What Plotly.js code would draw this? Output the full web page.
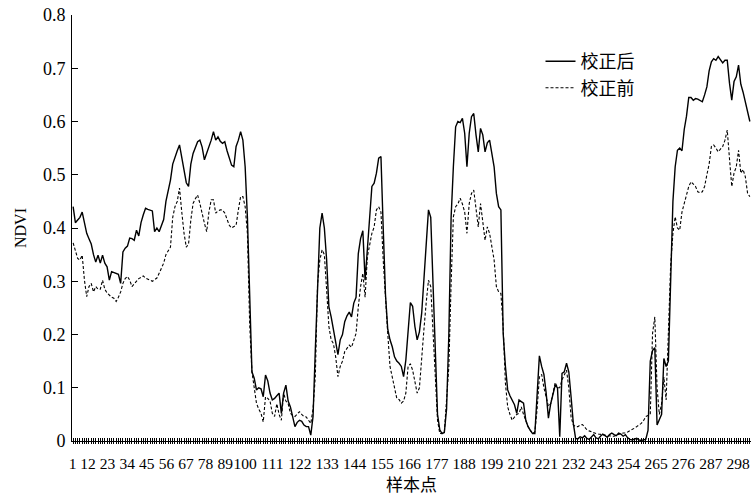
<!DOCTYPE html>
<html><head><meta charset="utf-8">
<script src="https://cdn.plot.ly/plotly-3.0.1.min.js"></script>
<style>html,body{margin:0;padding:0;background:#fff}#chart{width:753px;height:501px}</style>
</head><body><div id="chart"></div>
<script>
const ndviAfter = [
0.44,0.41,0.415,0.42,0.43,0.41,0.39,0.38,0.37,0.35,
0.336,0.349,0.334,0.349,0.334,0.327,0.302,0.318,0.316,0.314,
0.313,0.296,0.355,0.362,0.366,0.381,0.38,0.377,0.396,0.385,
0.41,0.425,0.437,0.435,0.434,0.432,0.393,0.4,0.393,0.405,
0.416,0.45,0.47,0.49,0.52,0.535,0.545,0.556,0.53,0.509,
0.485,0.478,0.52,0.54,0.55,0.562,0.565,0.552,0.528,0.54,
0.552,0.565,0.581,0.565,0.571,0.563,0.559,0.562,0.545,0.532,
0.518,0.515,0.553,0.565,0.581,0.565,0.515,0.42,0.25,0.13,
0.118,0.096,0.1,0.098,0.083,0.124,0.113,0.09,0.077,0.08,
0.085,0.09,0.052,0.09,0.105,0.075,0.064,0.046,0.027,0.035,
0.039,0.037,0.03,0.027,0.027,0.011,0.046,0.171,0.296,0.4,
0.428,0.4,0.34,0.252,0.233,0.21,0.19,0.162,0.19,0.2,
0.224,0.235,0.242,0.233,0.259,0.27,0.352,0.38,0.395,0.302,
0.36,0.43,0.478,0.484,0.503,0.531,0.534,0.4,0.275,0.21,
0.19,0.177,0.158,0.15,0.146,0.14,0.121,0.152,0.2,0.26,
0.253,0.215,0.19,0.205,0.24,0.3,0.36,0.434,0.42,0.3,
0.171,0.05,0.021,0.014,0.016,0.06,0.2,0.42,0.515,0.59,
0.6,0.598,0.606,0.578,0.515,0.578,0.609,0.615,0.575,0.543,
0.587,0.575,0.543,0.56,0.565,0.54,0.515,0.465,0.44,0.434,
0.202,0.14,0.096,0.085,0.077,0.068,0.052,0.077,0.074,0.071,
0.039,0.027,0.02,0.014,0.014,0.09,0.16,0.14,0.125,0.09,
0.043,0.07,0.085,0.105,0.1,0.008,0.127,0.13,0.146,0.13,
0.083,0.033,0.005,0.004,0.008,0.006,0.01,0.005,0.003,0.008,
0.012,0.006,0.004,0.009,0.013,0.01,0.007,0.012,0.015,0.012,
0.01,0.015,0.013,0.009,0.012,0.006,0.003,0.002,0.003,0.005,
0.002,0.001,0.002,0.003,0.02,0.15,0.17,0.175,0.03,0.04,
0.05,0.155,0.14,0.15,0.31,0.45,0.515,0.546,0.55,0.545,
0.585,0.61,0.645,0.645,0.64,0.643,0.642,0.64,0.637,0.65,
0.665,0.695,0.712,0.718,0.715,0.722,0.715,0.71,0.715,0.715,
0.672,0.64,0.675,0.684,0.706,0.67,0.655,0.635,0.62,0.6
];
const ndviBefore = [
0.372,0.355,0.343,0.34,0.349,0.302,0.271,0.29,0.296,0.28,
0.29,0.285,0.285,0.302,0.285,0.278,0.274,0.27,0.268,0.262,
0.27,0.28,0.296,0.305,0.309,0.302,0.29,0.295,0.299,0.305,
0.307,0.31,0.306,0.304,0.302,0.3,0.303,0.306,0.315,0.325,
0.334,0.35,0.358,0.364,0.42,0.44,0.45,0.475,0.43,0.39,
0.364,0.37,0.415,0.446,0.455,0.462,0.446,0.425,0.409,0.393,
0.43,0.453,0.453,0.428,0.432,0.434,0.434,0.428,0.415,0.405,
0.4,0.402,0.405,0.434,0.459,0.459,0.44,0.39,0.22,0.13,
0.1,0.071,0.06,0.052,0.036,0.083,0.08,0.075,0.052,0.046,
0.07,0.05,0.039,0.09,0.075,0.07,0.052,0.048,0.046,0.05,
0.055,0.05,0.046,0.045,0.04,0.033,0.06,0.121,0.296,0.34,
0.359,0.35,0.284,0.215,0.19,0.183,0.158,0.121,0.14,0.15,
0.168,0.175,0.18,0.176,0.19,0.202,0.252,0.29,0.315,0.27,
0.346,0.371,0.39,0.402,0.434,0.44,0.43,0.34,0.265,0.202,
0.14,0.12,0.102,0.08,0.078,0.071,0.075,0.09,0.14,0.145,
0.133,0.11,0.09,0.1,0.165,0.21,0.26,0.302,0.29,0.202,
0.108,0.039,0.014,0.014,0.016,0.077,0.14,0.296,0.421,0.44,
0.445,0.456,0.445,0.43,0.39,0.446,0.465,0.471,0.434,0.402,
0.446,0.41,0.377,0.402,0.39,0.365,0.34,0.29,0.28,0.277,
0.215,0.108,0.064,0.05,0.039,0.045,0.05,0.052,0.064,0.05,
0.039,0.027,0.02,0.014,0.017,0.06,0.12,0.125,0.1,0.08,
0.065,0.07,0.09,0.11,0.1,0.1,0.115,0.125,0.133,0.1,
0.045,0.03,0.027,0.027,0.03,0.031,0.025,0.021,0.019,0.017,
0.015,0.014,0.013,0.013,0.012,0.011,0.01,0.01,0.009,0.009,
0.011,0.013,0.014,0.015,0.015,0.017,0.019,0.021,0.024,0.027,
0.03,0.033,0.038,0.046,0.048,0.05,0.202,0.233,0.1,0.05,
0.07,0.12,0.077,0.2,0.33,0.39,0.421,0.4,0.396,0.43,
0.445,0.465,0.478,0.487,0.482,0.478,0.468,0.466,0.468,0.478,
0.5,0.52,0.553,0.556,0.55,0.543,0.548,0.553,0.565,0.584,
0.53,0.478,0.503,0.515,0.546,0.503,0.51,0.496,0.465,0.459
];
const sampleIndex = ndviAfter.map((_, k) => k + 1);
const tickLabels = ['1','12','23','34','45','56','67','78','89','100','111','122','133','144','155','166','177','188','199','210','221','232','243','254','265','276','287','298'];
const seriesNames = ['校正后', '校正前'];

// layout: where the (crowded) tick labels sit along the bottom, in page pixels
const tickLabelPx = [72.5,88,107.6,127.2,146.8,166.4,186,205.6,225.2,245,272.4,299.8,327.2,354.6,382,409.4,436.8,464.2,491.6,519,546.4,573.8,601.2,628.6,656,683.4,710.8,738.2];

const serif = "'Liberation Serif'";
const cjk = "'Noto Sans CJK SC'";

const traces = [
  {x: sampleIndex, y: ndviAfter, name: seriesNames[0], type: 'scatter', mode: 'lines',
   line: {color: '#000', width: 1.4}, hoverinfo: 'skip'},
  {x: sampleIndex, y: ndviBefore, name: seriesNames[1], type: 'scatter', mode: 'lines',
   line: {color: '#000', width: 1.1, dash: '3px,2px'}, hoverinfo: 'skip'},
  {x: [72, 751], y: [null, null], xaxis: 'x2', yaxis: 'y', mode: 'lines', showlegend: false, hoverinfo: 'skip'},
  {x: [0.5, 300.5], y: [null, null], xaxis: 'x3', yaxis: 'y', mode: 'lines', showlegend: false, hoverinfo: 'skip'}
];

const layout = {
  width: 753, height: 501,
  margin: {l: 72, r: 2, t: 15, b: 60},
  paper_bgcolor: '#fff', plot_bgcolor: '#fff',
  showlegend: true,
  legend: {x: 0.69, y: 0.934, xanchor: 'left', yanchor: 'top', bgcolor: 'rgba(0,0,0,0)',
           font: {family: cjk, size: 18, color: '#000'}},
  xaxis: {range: [0.5, 300.5], tickmode: 'linear', tick0: 1, dtick: 1, ticks: 'inside', ticklen: 3,
          tickcolor: '#000', tickwidth: 1, showticklabels: false, showline: true, linecolor: '#000',
          linewidth: 1, showgrid: false, zeroline: false},
  xaxis3: {overlaying: 'x', anchor: 'y', side: 'bottom', range: [0.5, 300.5], tickmode: 'linear', tick0: 1,
           dtick: 1, ticks: 'outside', ticklen: 2, tickcolor: '#000', tickwidth: 1, showticklabels: false,
           showline: false, showgrid: false, zeroline: false},
  xaxis2: {overlaying: 'x', anchor: 'y', side: 'bottom', range: [72, 751], tickmode: 'array',
           tickvals: tickLabelPx, ticktext: tickLabels, ticks: '', showline: false, showgrid: false,
           zeroline: false, ticklabelstandoff: 11, tickangle: 0,
           tickfont: {family: serif, size: 15.5, color: '#000'},
           title: {text: '样本点', font: {family: cjk, size: 17, color: '#000'}, standoff: 8}},
  yaxis: {range: [0, 0.8], tick0: 0, dtick: 0.1, ticks: 'inside', ticklen: 6, tickcolor: '#000',
          showline: true, linecolor: '#000', linewidth: 1, showgrid: false, zeroline: false,
          ticklabelstandoff: 2,
          tickfont: {family: serif, size: 18, color: '#000'},
          title: {text: 'NDVI', font: {family: serif, size: 16, color: '#000'}, standoff: 12}}
};

Plotly.newPlot('chart', traces, layout, {displayModeBar: false, staticPlot: true});
</script></body></html>
